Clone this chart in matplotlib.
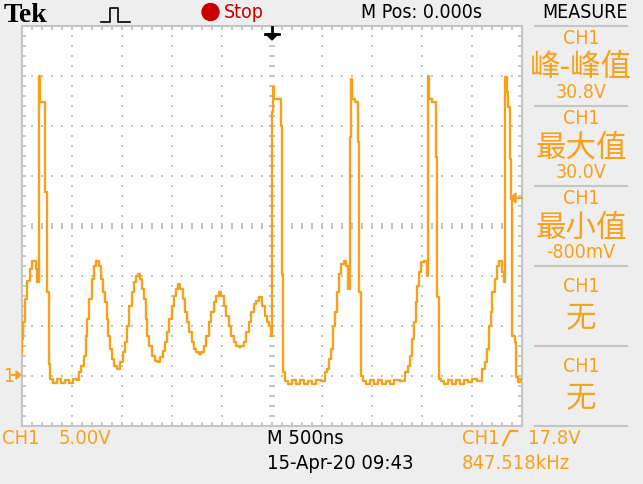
import numpy as np
import matplotlib.pyplot as plt
from matplotlib import font_manager
from matplotlib.font_manager import FontProperties
from matplotlib.patches import Circle, Polygon

# CH1 trace: time in us (trigger at 0), voltage in V
t_us = [-2.50, -2.495, -2.48, -2.46, -2.437, -2.413, -2.393, -2.37, -2.353, -2.337,
        -2.32, -2.31, -2.277, -2.27, -2.253, -2.247, -2.237, -2.23, -2.213,
        -2.17, -2.13, -2.09, -2.05, -2.01, -1.97, -1.937,
        -1.92, -1.893, -1.87, -1.853, -1.837, -1.813, -1.793, -1.77, -1.747, -1.72,
        -1.703, -1.68, -1.66, -1.647, -1.627, -1.613, -1.587, -1.57, -1.537, -1.503,
        -1.48, -1.46, -1.437, -1.413, -1.393, -1.37, -1.347, -1.327, -1.303, -1.287,
        -1.27, -1.253, -1.237, -1.213, -1.187, -1.153, -1.127, -1.103, -1.08, -1.053,
        -1.037, -1.013, -0.993, -0.97, -0.953, -0.927, -0.903, -0.88, -0.853, -0.837,
        -0.813, -0.793, -0.77, -0.747, -0.72, -0.693, -0.67, -0.647, -0.62, -0.593,
        -0.57, -0.547, -0.52, -0.493, -0.47, -0.447, -0.42, -0.393, -0.37, -0.347,
        -0.32, -0.293, -0.27, -0.247, -0.22, -0.193, -0.17, -0.147, -0.12, -0.087,
        -0.053, -0.037, -0.02, -0.003, 0.003, 0.013, 0.017, 0.03, 0.08, 0.097,
        0.107, 0.12, 0.14, 0.18, 0.22, 0.26, 0.30, 0.34, 0.38, 0.42, 0.46, 0.513,
        0.54, 0.563, 0.58, 0.597, 0.62, 0.64,
        0.663, 0.68, 0.707, 0.73, 0.753, 0.773, 0.78, 0.797, 0.813, 0.853,
        0.863, 0.887, 0.90, 0.92, 0.96, 1.00, 1.04, 1.08, 1.12, 1.16, 1.20, 1.25, 1.313,
        1.347, 1.373, 1.397, 1.413, 1.43,
        1.447, 1.463, 1.48, 1.497, 1.54, 1.553, 1.56, 1.58, 1.63, 1.647,
        1.663, 1.68, 1.697, 1.74, 1.78, 1.82, 1.86, 1.90, 1.94, 1.98, 2.03, 2.08,
        2.113, 2.14, 2.163, 2.18, 2.197, 2.213,
        2.24, 2.263, 2.287, 2.313, 2.33, 2.34, 2.353, 2.373, 2.38, 2.397,
        2.413, 2.44, 2.447, 2.47, 2.50]
ch1_v = [2.2, 3.7, 5.4, 7.7, 9.5, 10.7, 11.5, 11.5, 10.7, 9.4,
         30.0, 27.4, 27.4, 18.4, 18.4, 8.4, 8.4, 1.2, -0.3,
         -0.7, -0.3, -0.7, -0.4, -0.7, -0.3, -0.4,
         0.4, 1.0, 2.0, 4.0, 5.7, 7.7, 9.7, 11.0, 11.5, 11.0,
         9.7, 8.4, 7.4, 5.7, 4.0, 2.7, 1.7, 1.0, 0.7, 1.4,
         2.4, 3.4, 5.0, 7.0, 8.4, 9.4, 10.0, 10.2, 9.7, 8.7,
         7.7, 5.7, 4.0, 3.0, 2.0, 1.5, 1.4, 1.9, 2.5, 3.4,
         4.4, 5.7, 7.0, 8.0, 8.7, 9.2, 8.7, 7.7, 6.4, 5.4,
         4.4, 3.4, 2.7, 2.4, 2.2, 2.4, 3.0, 4.0, 5.4, 6.4,
         7.4, 8.0, 8.4, 8.0, 7.0, 6.0, 5.0, 4.0, 3.4, 3.0,
         2.9, 3.0, 3.4, 4.4, 5.4, 6.4, 7.2, 7.5, 7.9, 7.0,
         6.0, 5.4, 5.0, 4.0, 26.4, 26.4, 28.9, 27.7, 27.7, 25.0,
         10.2, 0.4, -0.5, -0.8, -0.4, -0.8, -0.4, -0.8, -0.5, -0.8, -0.4, -0.5,
         0.4, 0.7, 1.7, 2.7, 5.0, 6.4,
         8.4, 10.2, 11.2, 11.5, 11.0, 8.7, 23.9, 29.7, 27.7, 27.4,
         23.4, 8.4, 0.0, -0.5, -0.8, -0.4, -0.8, -0.4, -0.8, -0.5, -0.8, -0.4, -0.5,
         0.4, 1.0, 2.0, 3.7, 5.4,
         7.4, 9.0, 10.4, 11.4, 11.5, 10.0, 30.0, 27.7, 27.4, 21.9,
         7.9, -0.3, -0.5, -0.8, -0.4, -0.8, -0.4, -0.8, -0.4, -0.6, -0.3, -0.5,
         0.7, 1.4, 2.7, 5.0, 6.4, 8.4,
         9.7, 11.0, 11.5, 10.4, 9.4, 29.9, 28.4, 26.9, 21.7, 17.7,
         4.0, 3.4, -0.1, -0.6, -0.3]

volts_per_div = 5.0
us_per_div = 0.5
ground_div = 1          # ground marker one division above the bottom
trig_level = 17.8

meas_titles = ["CH1", "CH1", "CH1", "CH1", "CH1"]
meas_names = ["峰-峰值", "最大值", "最小值", "无", "无"]
meas_values = ["30.8V", "30.0V", "-800mV", "", ""]

TRACE = '#F7A11A'
GRID = '#C4C4C4'
BG = '#EEEEEE'

# look for a narrow sans font, the scope readouts are condensed
narrow_path = None
for f in font_manager.fontManager.ttflist:
    fn = f.fname.lower()
    if any(k in fn for k in ('bold', 'italic', 'oblique', 'mono', 'serif')):
        continue
    if 'narrow' in fn or 'condensed' in fn or f.stretch in ('condensed', 'semi-condensed'):
        narrow_path = f.fname
        break


def rfont(size):
    if narrow_path:
        return FontProperties(fname=narrow_path, size=size)
    return FontProperties(family='Liberation Sans', size=size * 0.93)


CJK = ['Noto Sans CJK SC', 'DejaVu Sans']

W, H = 643, 485
fig = plt.figure(figsize=(W / 100, H / 100), dpi=100)
fig.patch.set_facecolor(BG)

# graticule: 10 x 8 divisions, 50 px each
ax = fig.add_axes([22 / W, 1 - 427 / H, 500 / W, 400 / H])
ax.set_facecolor('white')
x0, x1 = -5 * us_per_div, 5 * us_per_div
y0, y1 = -ground_div * volts_per_div, (8 - ground_div) * volts_per_div
ax.set_xlim(x0, x1)
ax.set_ylim(y0, y1)
for s in ax.spines.values():
    s.set_color(GRID)
    s.set_linewidth(1.5)
ax.set_xticks(np.arange(x0, x1 + 1e-6, us_per_div / 5))
ax.set_yticks(np.arange(y0, y1 + 1e-6, volts_per_div / 5))
ax.tick_params(direction='in', length=3, width=1.3, color=GRID, top=True, right=True,
               labelbottom=False, labelleft=False)

xs_minor = np.arange(x0 + us_per_div / 5, x1 - 1e-6, us_per_div / 5)
ys_minor = np.arange(y0 + volts_per_div / 5, y1 - 1e-6, volts_per_div / 5)
for k in range(1, 10):
    gx = x0 + k * us_per_div
    if k == 5:
        ax.plot([gx] * len(ys_minor), ys_minor, '_', ms=4.5, mew=1.4, color=GRID, zorder=1)
    else:
        ax.plot([gx] * len(ys_minor), ys_minor, 's', ms=1.5, mew=0, color=GRID, zorder=1)
for k in range(1, 8):
    gy = y0 + k * volts_per_div
    if k == 4:
        ax.plot(xs_minor, [gy] * len(xs_minor), '|', ms=4.5, mew=1.4, color=GRID, zorder=1)
    else:
        ax.plot(xs_minor, [gy] * len(xs_minor), 's', ms=1.5, mew=0, color=GRID, zorder=1)

ax.plot(t_us, ch1_v, color=TRACE, lw=1.7, drawstyle='steps-mid', zorder=3)

# overlay in screen pixels for the readouts and markers
ov = fig.add_axes([0, 0, 1, 1], zorder=5)
ov.set_xlim(0, W)
ov.set_ylim(H, 0)
ov.axis('off')
ov.patch.set_alpha(0)

# top bar
ov.text(4, 15, "Tek", family='Liberation Serif', weight='bold', fontsize=20,
        color='black', va='center', ha='left')
ov.plot([101, 103, 105, 107, 110, 110, 118, 118, 121, 124, 127, 130],
        [23, 23, 23, 23, 23, 9, 9, 23, 23, 23, 23, 23], color='black', lw=1.2)
ov.add_patch(Circle((210.5, 13), 8.5, color='#C80000'))
ov.text(224, 13, "Stop", fontproperties=rfont(14), color='#C80000', va='center')
ov.text(361, 13, "M Pos: 0.000s", fontproperties=rfont(14), color='black', va='center')
ov.text(542, 13, "MEASURE", fontproperties=rfont(14), color='black', va='center')

# trigger position marker
ov.plot([272, 272], [28, 38], color='black', lw=2)
ov.plot([265, 279], [34.5, 34.5], color='black', lw=2)
ov.add_patch(Polygon([[266, 35], [278, 35], [272, 41]], color='black'))

# ground marker and trigger level marker
ov.text(3, 377, "1", fontproperties=rfont(14), color=TRACE, va='center')
ov.plot([12, 18], [376, 376], color=TRACE, lw=1.5)
ov.add_patch(Polygon([[16, 372], [21, 376], [16, 380]], color=TRACE))
ty = 427 - (trig_level - y0) / volts_per_div * 50
ov.plot([514, 522], [ty, ty], color=TRACE, lw=1.5)
ov.add_patch(Polygon([[516, ty - 5], [510, ty], [516, ty + 5]], color=TRACE))

# measurement panel
for i in range(5):
    top = 27 + 80 * i
    ov.plot([535, 627], [top, top], color=GRID, lw=1.5)
    if meas_values[i]:
        ov.text(581, top + 12, meas_titles[i], fontproperties=rfont(14), color=TRACE,
                ha='center', va='center')
        ov.text(581, top + 41, meas_names[i], family=CJK, fontsize=22, color=TRACE,
                ha='center', va='center')
        ov.text(581, top + 66, meas_values[i], fontproperties=rfont(14), color=TRACE,
                ha='center', va='center')
    else:
        ov.text(581, top + 20, meas_titles[i], fontproperties=rfont(14), color=TRACE,
                ha='center', va='center')
        ov.text(581, top + 51, meas_names[i], family=CJK, fontsize=22, color=TRACE,
                ha='center', va='center')
ov.plot([535, 627], [427, 427], color=GRID, lw=1.5)

# bottom readouts
ov.text(2, 439, "CH1", fontproperties=rfont(14.5), color=TRACE, va='center')
ov.text(59, 439, "5.00V", fontproperties=rfont(14.5), color=TRACE, va='center')
ov.text(267, 439, "M 500ns", fontproperties=rfont(14.5), color='black', va='center')
ov.text(267, 464, "15-Apr-20 09:43", fontproperties=rfont(14.5), color='black', va='center')
ov.text(462, 439, "CH1", fontproperties=rfont(14.5), color=TRACE, va='center')
ov.plot([503, 510, 517], [446, 432, 432], color=TRACE, lw=1.6)
ov.text(528, 439, "17.8V", fontproperties=rfont(14.5), color=TRACE, va='center')
ov.text(462, 464, "847.518kHz", fontproperties=rfont(14.5), color=TRACE, va='center')

fig.savefig("out.png", dpi=100, facecolor=BG)
